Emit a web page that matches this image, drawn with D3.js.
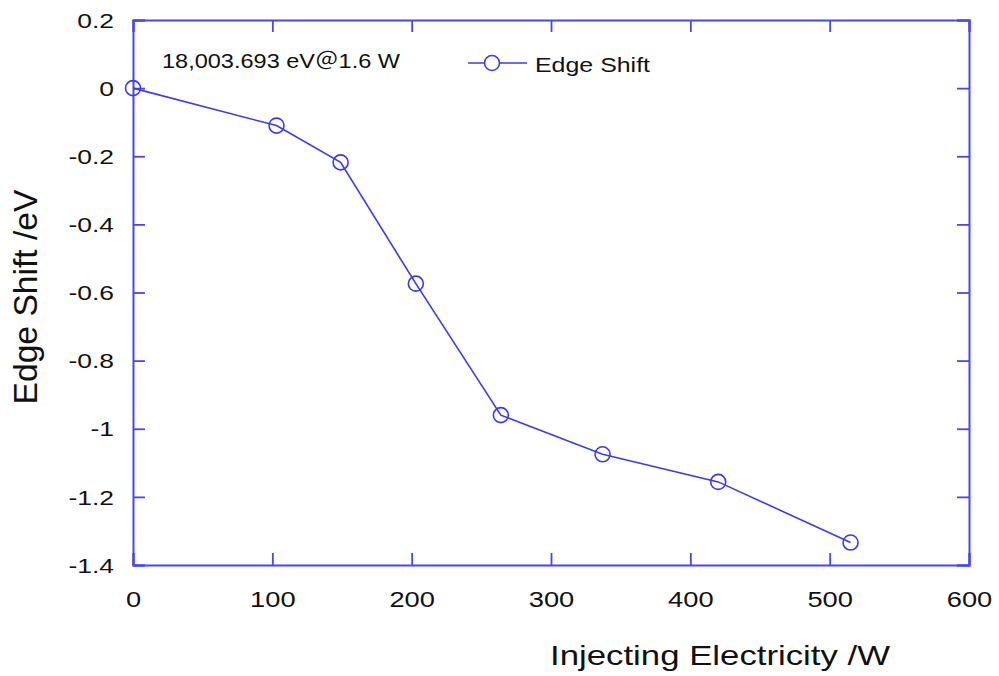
<!DOCTYPE html>
<html>
<head>
<meta charset="utf-8">
<script src="https://cdn.jsdelivr.net/npm/d3@7"></script>
<style>
  html, body { margin: 0; padding: 0; background: #fff; }
  svg { display: block; }
  text { font-family: "Liberation Sans", Arial, "Noto Sans CJK JP", sans-serif; fill: #111; }
</style>
</head>
<body>
<svg id="chart" width="999" height="676"></svg>
<script>
// Edge shift versus injected electrical power
const power = [0, 103, 149, 203, 264, 337, 420, 515];
const edgeShift = [0, -0.11, -0.218, -0.574, -0.96, -1.075, -1.156, -1.334];
const xTicks = [0, 100, 200, 300, 400, 500, 600];
const yTicks = [0.2, 0, -0.2, -0.4, -0.6, -0.8, -1, -1.2, -1.4];
const seriesName = "Edge Shift";
const note = "18,003.693 eV\uFF201.6 W";
const xTitle = "Injecting Electricity /W";
const yTitle = "Edge Shift /eV";

const blue = "#3a3af2";
const frameBlue = "#4646f2";

const svg = d3.select("#chart");
const plot = { left: 133, right: 969, top: 20, bottom: 565 };

const x = d3.scaleLinear().domain([0, 600]).range([plot.left, plot.right]);
const y = d3.scaleLinear().domain([-1.4, 0.2]).range([plot.bottom, plot.top]);

// stretch a text element horizontally along its own baseline
function widen(sel, k) {
  sel.each(function () {
    const w = this.getComputedTextLength();
    d3.select(this).attr("textLength", w * k).attr("lengthAdjust", "spacingAndGlyphs");
  });
}

// axes with inward ticks on all four sides
const tickLen = 12;
const gB = svg.append("g").attr("transform", `translate(0,${plot.bottom})`)
  .call(d3.axisBottom(x).tickValues(xTicks).tickSize(-tickLen).tickFormat(d3.format("d")));
const gT = svg.append("g").attr("transform", `translate(0,${plot.top})`)
  .call(d3.axisTop(x).tickValues(xTicks).tickSize(-tickLen).tickFormat(""));
const gL = svg.append("g").attr("transform", `translate(${plot.left},0)`)
  .call(d3.axisLeft(y).tickValues(yTicks).tickSize(-tickLen).tickPadding(19)
    .tickFormat(d => String(+d.toFixed(1))));
const gR = svg.append("g").attr("transform", `translate(${plot.right},0)`)
  .call(d3.axisRight(y).tickValues(yTicks).tickSize(-tickLen).tickFormat(""));

[gB, gT, gL, gR].forEach(g => {
  g.select(".domain").attr("stroke", frameBlue).attr("stroke-width", 2);
  g.selectAll(".tick line").attr("stroke", frameBlue).attr("stroke-width", 1.8);
  g.selectAll("text").attr("fill", "#151515").attr("font-family", "Liberation Sans, Arial, sans-serif");
});
gB.selectAll(".tick text").attr("font-size", 22).attr("dy", 0).attr("y", 41.5);
gL.selectAll(".tick text").attr("font-size", 21).attr("dy", "0.34em");
widen(gB.selectAll(".tick text"), 1.24);
widen(gL.selectAll(".tick text"), 1.26);

// data line and open circle markers
const line = d3.line().x((d, i) => x(power[i])).y(d => y(d));
svg.append("path").datum(edgeShift)
  .attr("d", line).attr("fill", "none").attr("stroke", blue).attr("stroke-width", 1.6);
svg.append("g").selectAll("circle").data(edgeShift).join("circle")
  .attr("cx", (d, i) => x(power[i])).attr("cy", d => y(d)).attr("r", 7.5)
  .attr("fill", "none").attr("stroke", blue).attr("stroke-width", 1.6);

// legend
const lg = svg.append("g");
lg.append("line").attr("x1", 468).attr("x2", 527).attr("y1", 63).attr("y2", 63)
  .attr("stroke", blue).attr("stroke-width", 1.6);
lg.append("circle").attr("cx", 492).attr("cy", 63).attr("r", 7.5)
  .attr("fill", "#fff").attr("stroke", blue).attr("stroke-width", 1.6);
lg.append("text").attr("x", 535).attr("y", 71.5).attr("font-size", 21).text(seriesName)
  .attr("textLength", 115).attr("lengthAdjust", "spacingAndGlyphs");

// reference energy note
svg.append("text").attr("x", 162).attr("y", 68).attr("font-size", 20).text(note)
  .attr("textLength", 238).attr("lengthAdjust", "spacingAndGlyphs");

// axis titles
svg.append("text").attr("x", 720).attr("y", 665).attr("text-anchor", "middle")
  .attr("font-size", 28).text(xTitle)
  .attr("textLength", 340).attr("lengthAdjust", "spacingAndGlyphs");
svg.append("text").attr("transform", "translate(37,297) rotate(-90)")
  .attr("text-anchor", "middle").attr("font-size", 34).text(yTitle)
  .attr("textLength", 215).attr("lengthAdjust", "spacingAndGlyphs");
</script>
</body>
</html>
